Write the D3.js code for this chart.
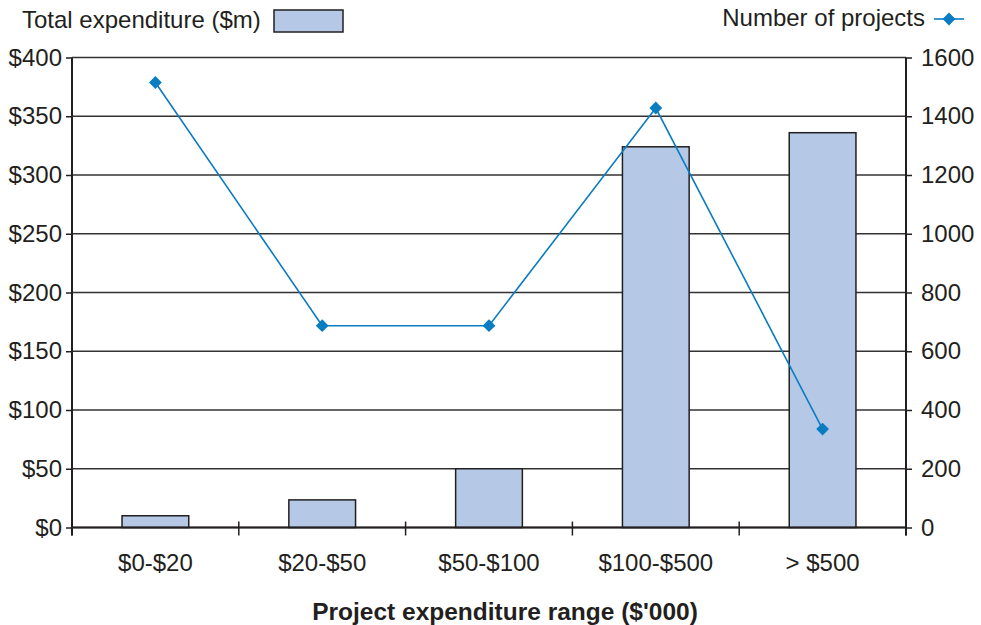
<!DOCTYPE html>
<html>
<head>
<meta charset="utf-8">
<script src="https://cdn.jsdelivr.net/npm/d3@7"></script>
<style>
  html, body { margin: 0; padding: 0; background: #fff; }
  svg text { font-family: "Liberation Sans", Arial, Helvetica, sans-serif; fill: #231f20; }
</style>
</head>
<body>
<svg id="chart" width="981" height="625"></svg>
<script>
// Project expenditure ranges ($'000)
const categories = ["$0-$20", "$20-$50", "$50-$100", "$100-$500", "> $500"];
// Total expenditure per range ($m)
const totalExpenditure = [10, 23.5, 50, 324, 336];
// Number of projects per range
const numberOfProjects = [1515, 687, 687, 1428, 335];
// Axis ticks
const leftTicks = [0, 50, 100, 150, 200, 250, 300, 350, 400];
const rightTicks = [0, 200, 400, 600, 800, 1000, 1200, 1400, 1600];

const svg = d3.select("#chart");
const plot = { left: 72, right: 906, top: 57.5, bottom: 527.5 };

const x = d3.scaleBand().domain(categories).range([plot.left, plot.right]).padding(0);
const yLeft = d3.scaleLinear().domain([0, 400]).range([plot.bottom, plot.top]);
const yRight = d3.scaleLinear().domain([0, 1600]).range([plot.bottom, plot.top]);

const axisColor = "#231f20";
const fontSize = 24;

// Horizontal gridlines
svg.append("g").selectAll("line").data(leftTicks).join("line")
  .attr("x1", plot.left).attr("x2", plot.right)
  .attr("y1", d => yLeft(d)).attr("y2", d => yLeft(d))
  .attr("stroke", "#333").attr("stroke-width", 1.4);

// Bars: total expenditure
const barW = x.bandwidth() * 0.4;
svg.append("g").selectAll("rect").data(totalExpenditure).join("rect")
  .attr("x", (d, i) => x(categories[i]) + (x.bandwidth() - barW) / 2)
  .attr("y", d => yLeft(d))
  .attr("width", barW)
  .attr("height", d => yLeft(0) - yLeft(d))
  .attr("fill", "#b5c9e7")
  .attr("stroke", "#231f20").attr("stroke-width", 1.5);

// Left and right value axes
const gL = svg.append("g").attr("transform", `translate(${plot.left},0)`)
  .call(d3.axisLeft(yLeft).tickValues(leftTicks).tickSize(6).tickPadding(4).tickFormat(d => "$" + d));
const gR = svg.append("g").attr("transform", `translate(${plot.right},0)`)
  .call(d3.axisRight(yRight).tickValues(rightTicks).tickSize(6).tickPadding(9).tickFormat(d3.format("d")));
[gL, gR].forEach(g => {
  g.select(".domain").remove();
  g.selectAll(".tick line").attr("stroke", axisColor).attr("stroke-width", 1.5);
  g.selectAll(".tick text").style("font-size", fontSize + "px").attr("fill", axisColor);
});
svg.append("line").attr("x1", plot.left).attr("x2", plot.left).attr("y1", plot.top).attr("y2", plot.bottom + 8)
  .attr("stroke", axisColor).attr("stroke-width", 2);
svg.append("line").attr("x1", plot.right).attr("x2", plot.right).attr("y1", plot.top).attr("y2", plot.bottom + 8)
  .attr("stroke", axisColor).attr("stroke-width", 2);

// Category axis with ticks at band boundaries
const boundaries = categories.map(c => x(c)).concat([plot.right]);
const gB = svg.append("g").attr("transform", `translate(0,${plot.bottom})`);
gB.append("line").attr("x1", plot.left).attr("x2", plot.right)
  .attr("stroke", axisColor).attr("stroke-width", 2);
gB.selectAll("line.tk").data(boundaries).join("line").attr("class", "tk")
  .attr("x1", d => d).attr("x2", d => d).attr("y1", -6).attr("y2", 8)
  .attr("stroke", axisColor).attr("stroke-width", 1.5);
gB.selectAll("text").data(categories).join("text")
  .attr("x", d => x(d) + x.bandwidth() / 2)
  .attr("y", 43)
  .attr("text-anchor", "middle")
  .style("font-size", fontSize + "px")
  .text(d => d);

// Line: number of projects
const lineColor = "#0a7cc1";
const line = d3.line()
  .x((d, i) => x(categories[i]) + x.bandwidth() / 2)
  .y(d => yRight(d));
svg.append("path").datum(numberOfProjects)
  .attr("d", line).attr("fill", "none")
  .attr("stroke", lineColor).attr("stroke-width", 1.6);
const diamond = d3.symbol().type(d3.symbolDiamond2).size(105);
svg.append("g").selectAll("path").data(numberOfProjects).join("path")
  .attr("d", diamond)
  .attr("transform", (d, i) => `translate(${x(categories[i]) + x.bandwidth() / 2},${yRight(d)})`)
  .attr("fill", lineColor);

// X axis title
svg.append("text")
  .attr("x", 505).attr("y", 620)
  .attr("text-anchor", "middle")
  .style("font-size", "24.5px").style("font-weight", "bold")
  .text("Project expenditure range ($'000)");

// Legend: bars
svg.append("text").attr("x", 22).attr("y", 28)
  .style("font-size", fontSize + "px").text("Total expenditure ($m)");
svg.append("rect").attr("x", 274).attr("y", 10).attr("width", 69).attr("height", 22)
  .attr("fill", "#b5c9e7").attr("stroke", axisColor).attr("stroke-width", 1.5);

// Legend: line
svg.append("text").attr("x", 925).attr("y", 26).attr("text-anchor", "end")
  .style("font-size", fontSize + "px").text("Number of projects");
svg.append("line").attr("x1", 934).attr("x2", 964).attr("y1", 19).attr("y2", 19)
  .attr("stroke", lineColor).attr("stroke-width", 1.6);
svg.append("path").attr("d", diamond).attr("transform", "translate(949,19)").attr("fill", lineColor);
</script>
</body>
</html>
